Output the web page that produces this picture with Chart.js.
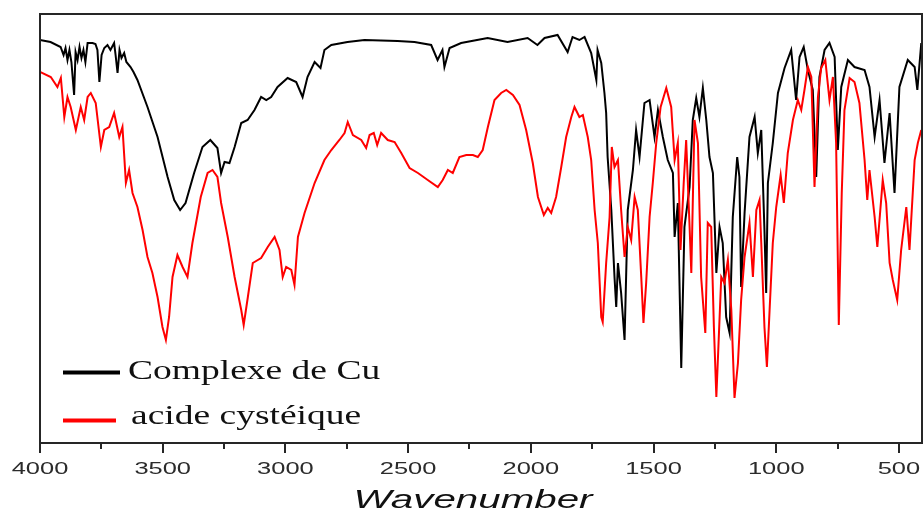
<!DOCTYPE html>
<html>
<head>
<meta charset="utf-8">
<script src="https://cdn.jsdelivr.net/npm/chart.js@4.4.1/dist/chart.umd.min.js"></script>
<style>
  html, body { margin: 0; padding: 0; background: #ffffff; }
  #wrap { width: 923px; height: 508px; }
</style>
</head>
<body>
<div id="wrap"><canvas id="c" width="923" height="508"></canvas></div>
<script>
// IR spectra, transmittance in arbitrary units against wavenumber (cm-1)
const complexeWavenumber = [
  4000,3957,3916,3904,3896,3888,3880,3872,3861,3855,
  3847,3839,3831,3823,3815,3806,3786,3774,3766,3758,
  3749,3738,3725,3713,3698,3692,3684,3676,3668,3657,
  3648,3631,3619,3603,3562,3521,3480,3453,3429,3407,
  3372,3338,3306,3277,3262,3248,3228,3207,3180,3154,
  3126,3099,3078,3058,3032,2991,2956,2930,2910,2881,
  2857,2841,2813,2747,2678,2543,2474,2406,2380,2360,
  2352,2331,2284,2176,2095,2013,1973,1944,1891,1850,
  1830,1802,1781,1754,1733,1728,1713,1700,1693,1687,
  1672,1659,1652,1645,1632,1618,1605,1584,1571,1557,
  1537,1516,1496,1482,1462,1442,1421,1414,1401,1387,
  1374,1353,1340,1326,1313,1299,1285,1272,1258,1244,
  1231,1218,1204,1190,1177,1159,1150,1143,1129,1109,
  1088,1075,1061,1048,1041,1034,1014,993,966,939,
  919,905,888,871,851,837,824,803,783,762,
  749,735,708,681,640,620,599,579,559,538,
  518,498,464,436,425,409
];
const complexeTransmittance = [
  403,401,396,388,395,383,393,381,348,391,
  383,396,385,393,381,400,400,399,393,361,
  388,395,398,393,400,388,370,393,385,390,
  381,376,371,363,336,306,266,243,233,240,
  270,296,303,295,270,281,280,296,320,323,
  333,346,343,346,356,365,361,346,366,381,
  375,393,398,401,403,402,401,398,383,393,
  376,395,400,405,401,405,398,405,408,391,
  406,403,406,390,363,393,380,350,330,286,
  233,166,136,180,150,103,233,273,313,286,
  340,343,306,333,306,283,270,206,240,75,
  216,256,323,345,326,355,323,286,270,170,
  216,200,126,110,226,286,266,156,230,306,
  326,290,313,213,150,260,300,350,375,393,
  343,386,396,373,353,266,366,393,400,386,
  293,356,383,376,373,356,306,343,280,330,
  250,356,383,376,353,400
];

const acideWavenumber = [
  4000,3956,3929,3915,3901,3888,3875,3854,3834,3820,
  3806,3793,3773,3752,3738,3718,3698,3677,3664,3650,
  3637,3623,3603,3582,3562,3542,3521,3501,3487,3474,
  3460,3440,3419,3399,3379,3345,3317,3297,3277,3262,
  3235,3207,3180,3170,3153,3133,3099,3072,3044,3024,
  3011,2997,2976,2963,2949,2922,2881,2841,2813,2780,
  2759,2746,2725,2691,2671,2657,2640,2626,2610,2583,
  2555,2528,2494,2460,2420,2379,2359,2338,2318,2291,
  2263,2236,2216,2196,2175,2148,2121,2100,2073,2046,
  2019,1992,1971,1947,1931,1917,1897,1876,1856,1835,
  1822,1802,1788,1768,1754,1740,1727,1713,1707,1693,
  1679,1670,1659,1645,1632,1618,1605,1591,1577,1564,
  1550,1541,1530,1516,1503,1489,1471,1448,1428,1414,
  1401,1390,1377,1367,1353,1346,1333,1319,1306,1289,
  1279,1265,1254,1244,1235,1224,1211,1197,1183,1170,
  1156,1143,1129,1109,1095,1081,1068,1061,1048,1038,
  1027,1014,1000,982,969,953,932,912,898,885,
  871,857,844,830,817,800,783,769,756,745,
  733,722,701,681,661,640,629,620,599,588,
  566,552,538,525,507,491,470,457,436,423,
  409
];
const acideTransmittance = [
  371,366,356,365,326,346,336,313,336,323,
  346,350,340,296,313,316,330,306,316,260,
  273,250,236,213,186,170,146,116,103,126,
  166,188,176,166,200,246,270,273,266,240,
  206,166,133,118,146,180,185,196,206,193,
  166,176,173,158,206,230,260,283,293,303,
  310,321,308,303,295,308,310,298,310,303,
  301,290,275,270,263,256,263,273,270,286,
  288,288,286,293,316,343,350,353,348,338,
  313,280,246,228,235,230,246,276,306,326,
  336,326,328,306,283,233,200,126,121,180,
  226,296,276,283,233,186,216,203,246,233,
  166,120,160,226,260,300,336,355,336,283,
  300,193,260,303,216,170,323,300,166,110,
  220,216,116,46,100,166,160,183,133,45,
  80,143,186,220,166,233,243,200,116,76,
  133,200,236,268,240,290,323,343,333,353,
  376,366,256,346,375,383,343,366,300,118,
  250,333,365,361,340,283,243,273,226,196,
  263,240,180,163,143,193,236,193,283,300,
  313
];

const majorTicks = [4000, 3500, 3000, 2500, 2000, 1500, 1000, 500];
const minorTicks = [3750, 3250, 2750, 2250, 1750, 1250, 750];
const seriesNames = ['Complexe de Cu', 'acide cystéique'];
const seriesColors = ['#000000', '#ff0000'];
const axisTitle = 'Wavenumber';

const toPoints = (xs, ys) => xs.map((x, i) => ({ x: x, y: ys[i] }));

// Frame, wavenumber ticks, stretched labels and the legend box
const decorations = {
  id: 'decorations',
  afterDatasetsDraw(chart) {
    const ctx = chart.ctx;
    const area = chart.chartArea;
    const xs = chart.scales.x;
    ctx.save();

    // frame
    ctx.strokeStyle = '#262626';
    ctx.lineWidth = 2;
    ctx.strokeRect(area.left, area.top, area.right - area.left, area.bottom - area.top);

    // tick marks below the axis
    ctx.lineWidth = 2;
    majorTicks.forEach(v => {
      const px = Math.round(xs.getPixelForValue(v));
      ctx.beginPath();
      ctx.moveTo(px, area.bottom);
      ctx.lineTo(px, area.bottom + 10);
      ctx.stroke();
    });
    minorTicks.forEach(v => {
      const px = Math.round(xs.getPixelForValue(v));
      ctx.beginPath();
      ctx.moveTo(px, area.bottom);
      ctx.lineTo(px, area.bottom + 6);
      ctx.stroke();
    });

    // tick labels, wide sans-serif
    ctx.fillStyle = '#2b2b2b';
    ctx.font = '16px "Liberation Sans", Arial, sans-serif';
    ctx.textAlign = 'center';
    ctx.textBaseline = 'alphabetic';
    majorTicks.forEach(v => {
      const px = xs.getPixelForValue(v);
      ctx.save();
      ctx.translate(px, area.bottom + 30.5);
      ctx.scale(1.59, 1);
      ctx.fillText(String(v), 0, 0);
      ctx.restore();
    });

    // axis title
    ctx.fillStyle = '#111111';
    ctx.font = 'italic 26px "Liberation Sans", Arial, sans-serif';
    ctx.save();
    ctx.translate(473, 508);
    ctx.scale(1.55, 1);
    ctx.fillText(axisTitle, 0, 0);
    ctx.restore();

    // legend
    const legendRows = [
      { lineY: 372.5, lineEnd: 120, textX: 128, baseY: 379 },
      { lineY: 420.5, lineEnd: 116, textX: 131, baseY: 424 }
    ];
    ctx.font = '28px "Liberation Serif", "Times New Roman", serif';
    ctx.textAlign = 'left';
    legendRows.forEach((row, i) => {
      ctx.strokeStyle = seriesColors[i];
      ctx.lineWidth = 4;
      ctx.beginPath();
      ctx.moveTo(63, row.lineY);
      ctx.lineTo(row.lineEnd, row.lineY);
      ctx.stroke();
      ctx.fillStyle = '#111111';
      ctx.save();
      ctx.translate(row.textX, row.baseY);
      ctx.scale(1.34, 1);
      ctx.fillText(seriesNames[i], 0, 0);
      ctx.restore();
    });

    ctx.restore();
  }
};

new Chart(document.getElementById('c'), {
  type: 'line',
  data: {
    datasets: [
      {
        label: seriesNames[1],
        data: toPoints(acideWavenumber, acideTransmittance),
        borderColor: seriesColors[1],
        borderWidth: 2,
        pointRadius: 0,
        tension: 0,
        fill: false
      },
      {
        label: seriesNames[0],
        data: toPoints(complexeWavenumber, complexeTransmittance),
        borderColor: seriesColors[0],
        borderWidth: 2,
        pointRadius: 0,
        tension: 0,
        fill: false
      }
    ]
  },
  options: {
    responsive: false,
    animation: false,
    devicePixelRatio: 1,
    layout: { padding: { left: 40, right: 1, top: 14, bottom: 65 } },
    scales: {
      x: { type: 'linear', reverse: true, min: 406, max: 4000, display: false },
      y: { type: 'linear', min: 0, max: 429, display: false }
    },
    plugins: {
      legend: { display: false },
      tooltip: { enabled: false }
    }
  },
  plugins: [decorations]
});
</script>
</body>
</html>
